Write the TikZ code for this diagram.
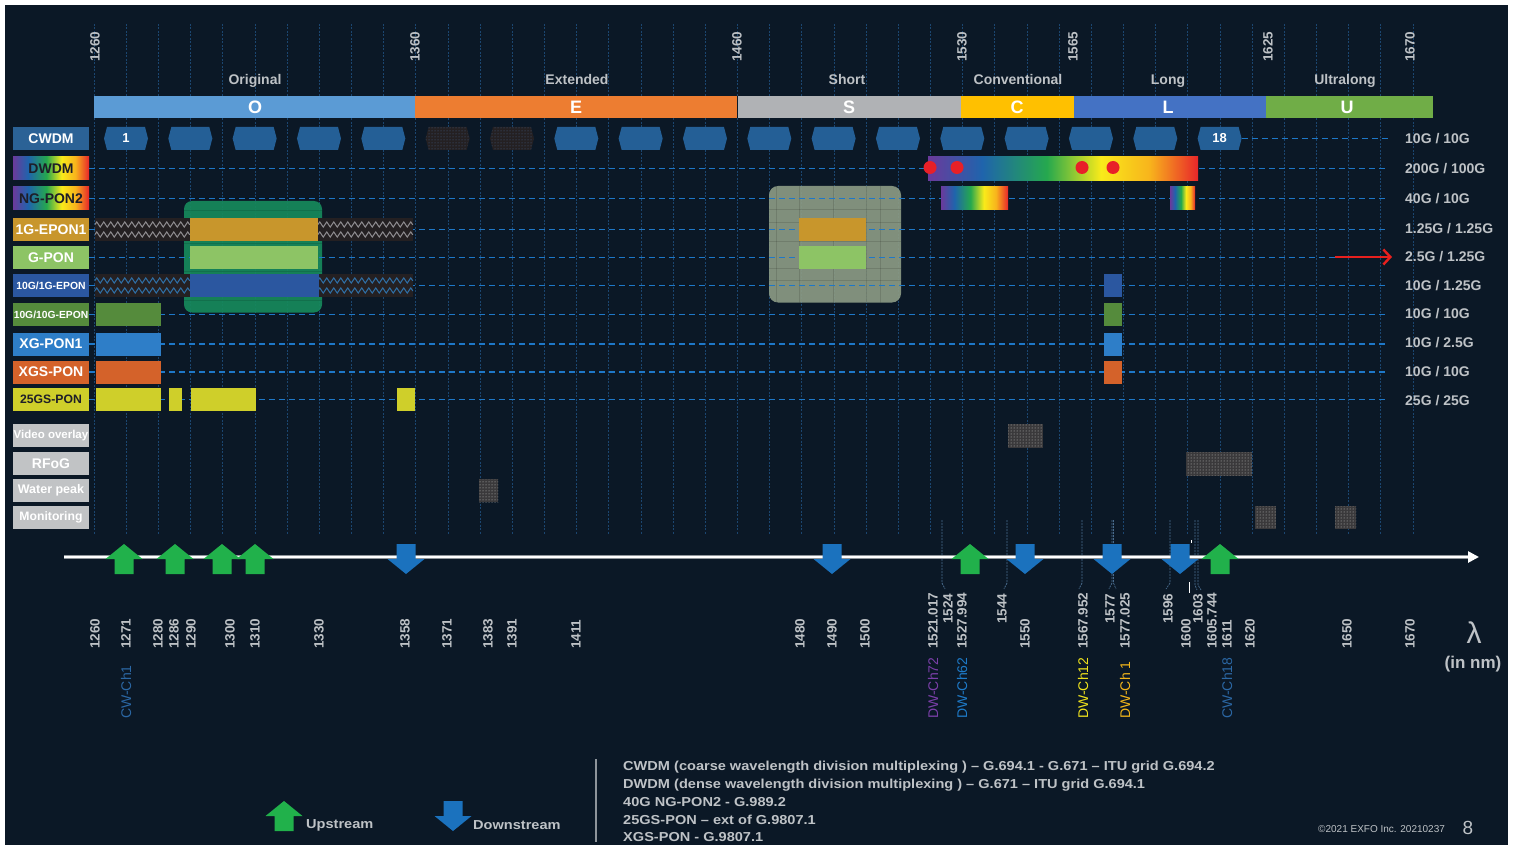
\documentclass[tikz,border=0pt]{standalone}
\usepackage{fontspec}
\setmainfont{Liberation Sans}
\usetikzlibrary{patterns,decorations.pathmorphing,arrows.meta}

\definecolor{pagebg}{HTML}{0B1826}
\definecolor{gridblue}{HTML}{1B4670}
\definecolor{rowdash}{HTML}{1E78C8}
\definecolor{txtgray}{HTML}{BEC2C6}
\definecolor{bandO}{HTML}{5B9BD5}
\definecolor{bandE}{HTML}{ED7D31}
\definecolor{bandS}{HTML}{B0B2B5}
\definecolor{bandC}{HTML}{FFC000}
\definecolor{bandL}{HTML}{4472C4}
\definecolor{bandU}{HTML}{70AD47}
\definecolor{cwdmlbl}{HTML}{2B6296}
\definecolor{cwdmhex}{HTML}{245F96}
\definecolor{epongold}{HTML}{C8962C}
\definecolor{gpongreen}{HTML}{8DC465}
\definecolor{tenone}{HTML}{2B57A0}
\definecolor{tenten}{HTML}{558B3C}
\definecolor{xgpon}{HTML}{2E7EC8}
\definecolor{xgspon}{HTML}{D4622A}
\definecolor{twentyfive}{HTML}{CFCF2A}
\definecolor{svcgray}{HTML}{C1C3C5}
\definecolor{labdark}{HTML}{1E1E28}
\definecolor{upgreen}{HTML}{21B14B}
\definecolor{downblue}{HTML}{1B72BE}
\definecolor{coexgreen}{HTML}{16895C}
\definecolor{sboxgray}{HTML}{8A9A84}
\definecolor{rbpurple}{HTML}{6B3A9C}
\definecolor{rbblue}{HTML}{1F64AC}
\definecolor{rbgreen}{HTML}{25A84E}
\definecolor{rbyellow}{HTML}{F9EA1A}
\definecolor{rborange}{HTML}{F8B41C}
\definecolor{rbred}{HTML}{E8262A}
\definecolor{dotred}{HTML}{E82028}
\definecolor{hatchdark}{HTML}{242022}
\definecolor{zzgray}{HTML}{8C8A8E}
\definecolor{zzblue}{HTML}{2F6EA4}
\definecolor{texgray}{HTML}{3A393B}
\definecolor{texdots}{HTML}{C8C8C8}
\definecolor{darkdots}{HTML}{46638A}
\definecolor{chpurple}{HTML}{7B3FA9}
\definecolor{chblue}{HTML}{1E7AC8}
\definecolor{chyellow}{HTML}{EFE21C}
\definecolor{chorange}{HTML}{F2B51A}
\definecolor{cwchblue}{HTML}{2B67A4}
\definecolor{arrowred}{HTML}{E8201E}
\definecolor{sepgray}{HTML}{8E949A}

\pgfdeclarehorizontalshading{rainbow}{100bp}{color(0bp)=(rbpurple); color(25bp)=(rbpurple); color(35bp)=(rbblue); color(47bp)=(rbgreen); color(57bp)=(rbyellow); color(66bp)=(rborange); color(75bp)=(rbred); color(100bp)=(rbred)}

\tikzset{
  gridline/.style={gridblue, line width=0.7pt, dash pattern=on 2pt off 1.5pt},
  leaderline/.style={gridblue!80!white, line width=0.7pt, dash pattern=on 2pt off 1pt},
  rowline/.style={rowdash, line width=1.6pt, dash pattern=on 6pt off 4pt},
  rowlabel/.style={minimum width=76pt, minimum height=23pt, inner sep=0pt, text=white, font=\bfseries\fontsize{14}{14}\selectfont},
  ratelabel/.style={anchor=west, inner sep=0pt, text=txtgray, font=\bfseries\fontsize{14}{14}\selectfont},
  ticklabel/.style={rotate=90, anchor=west, inner sep=0pt, text=txtgray, font=\bfseries\fontsize{13.5}{13.5}\selectfont},
  chanlabel/.style={rotate=90, anchor=west, inner sep=0pt, font=\fontsize{14}{14}\selectfont},
  bandname/.style={anchor=base, inner sep=0pt, text=txtgray, font=\bfseries\fontsize{14}{14}\selectfont},
  bandletter/.style={text=white, font=\bfseries\fontsize{18}{18}\selectfont},
  legendtext/.style={anchor=west, inner sep=0pt, text=txtgray, xscale=1.12, font=\bfseries\fontsize{13}{13}\selectfont},
  hexnum/.style={minimum width=44pt, minimum height=23pt, inner sep=0pt, text=white, font=\bfseries\fontsize{13}{13}\selectfont},
  zigline/.style={line width=1pt, decorate, decoration={zigzag, segment length=7pt, amplitude=2.6pt}},
  texbox/.style={fill=texgray, postaction={pattern=dots, pattern color=texdots}},
  faint/.style={black, opacity=0.12, line width=0.8pt},
  cwhex/.pic={\path[pic actions] (-22,0) -- (-19,-11.5) -- (19,-11.5) -- (22,0) -- (19,11.5) -- (-19,11.5) -- cycle;},
  uparrow/.pic={\fill[upgreen] (-18.5,15) -- (0,0) -- (18.5,15) -- (9.5,15) -- (9.5,30) -- (-9.5,30) -- (-9.5,15) -- cycle;},
  downarrow/.pic={\fill[downblue] (-9.5,0) -- (9.5,0) -- (9.5,15) -- (18.5,15) -- (0,30) -- (-18.5,15) -- (-9.5,15) -- cycle;},
}

\begin{document}
\begin{tikzpicture}[x=1pt,y=-1pt]
% page and backdrop
\fill[white] (0,0) rectangle (1516,845);
\useasboundingbox (0,0) rectangle (1516,845);
\fill[pagebg] (5,5) rectangle (1508,845);

% 10 nm grid
\foreach \k in {0,...,41}
  \draw[gridline] ({94+\k*32.17},24) -- ({94+\k*32.17},535);

% band names and band bar
\node[bandname] (nO) at (255,85) {Original};
\node[bandname] (nE) at (577,85) {Extended};
\node[bandname] (nS) at (847,85) {Short};
\node[bandname] (nC) at (1018,85) {Conventional};
\node[bandname] (nL) at (1168,85) {Long};
\node[bandname] (nU) at (1345,85) {Ultralong};
\fill[bandO] (94,96) rectangle (415,118.5);
\fill[bandE] (415,96) rectangle (737,118.5);
\fill[bandS] (737,96) rectangle (961,118.5);
\fill[bandC] (961,96) rectangle (1074,118.5);
\fill[bandL] (1074,96) rectangle (1266,118.5);
\fill[bandU] (1266,96) rectangle (1433,118.5);
\draw[pagebg, line width=0.6pt] (737,96) -- (737,118.5);
\node[bandletter] (bO) at (255,107.5) {O};
\node[bandletter] (bE) at (576,107.5) {E};
\node[bandletter] (bS) at (849,107.5) {S};
\node[bandletter] (bC) at (1017,107.5) {C};
\node[bandletter] (bL) at (1168,107.5) {L};
\node[bandletter] (bU) at (1347,107.5) {U};

% band edge wavelengths
\foreach \x/\t in {95/1260,415/1360,737/1460,962/1530,1073/1565,1268/1625,1410/1670}
  \node[ticklabel] at (\x,62) {\t};

% coexistence zones
\fill[coexgreen, opacity=0.92, rounded corners=8pt] (184,201) rectangle (322,312.5);
\begin{scope}
  \clip[rounded corners=8pt] (184,201) rectangle (322,312.5);
  \foreach \yy in {210,243,271,300} \draw[faint] (184,\yy) -- (322,\yy);
\end{scope}
\fill[sboxgray, opacity=0.92, rounded corners=9pt] (769,186) rectangle (901,302.5);
\begin{scope}
  \clip[rounded corners=9pt] (769,186) rectangle (901,302.5);
  \foreach \yy in {209,222,241,268,280} \draw[faint] (769,\yy) -- (901,\yy);
  \foreach \xx in {776,799,833,866,880} \draw[faint] (\xx,186) -- (\xx,302.5);
\end{scope}

% row labels (left) and rates (right)
\node[rowlabel, fill=cwdmlbl] (lCWDM) at (51,138.5) {CWDM};
\node[rowlabel, shade, shading=rainbow, text=labdark] (lDWDM) at (51,168.5) {DWDM};
\node[rowlabel, shade, shading=rainbow, text=labdark] (lNG) at (51,198.5) {NG-PON2};
\node[rowlabel, fill=epongold] (lEPON) at (51,229.5) {1G-EPON1};
\node[rowlabel, fill=gpongreen] (lGPON) at (51,257.5) {G-PON};
\node[rowlabel, fill=tenone, font=\bfseries\fontsize{10.4}{10.4}\selectfont] (lTenOne) at (51,285.5) {10G/1G-EPON};
\node[rowlabel, fill=tenten, font=\bfseries\fontsize{10.3}{10.3}\selectfont] (lTenTen) at (51,314.5) {10G/10G-EPON};
\node[rowlabel, fill=xgpon] (lXG) at (51,344) {XG-PON1};
\node[rowlabel, fill=xgspon] (lXGS) at (51,372) {XGS-PON};
\node[rowlabel, fill=twentyfive, text=labdark, font=\bfseries\fontsize{12.2}{12.2}\selectfont] (lTwentyFive) at (51,399.5) {25GS-PON};
\node[rowlabel, fill=svcgray, font=\bfseries\fontsize{11.5}{11.5}\selectfont] (lVideo) at (51,435.5) {Video overlay};
\node[rowlabel, fill=svcgray] (lRFoG) at (51,463.5) {RFoG};
\node[rowlabel, fill=svcgray, font=\bfseries\fontsize{12.5}{12.5}\selectfont] (lWater) at (51,490.5) {Water peak};
\node[rowlabel, fill=svcgray, font=\bfseries\fontsize{12.2}{12.2}\selectfont] (lMon) at (51,517.5) {Monitoring};

\node[ratelabel] (rCWDM) at (1405,138.5) {10G / 10G};
\node[ratelabel] (rDWDM) at (1405,169) {200G / 100G};
\node[ratelabel] (rNG) at (1405,198.5) {40G / 10G};
\node[ratelabel] (rEPON) at (1405,228.5) {1.25G / 1.25G};
\node[ratelabel] (rGPON) at (1405,257) {2.5G / 1.25G};
\node[ratelabel] (rTenOne) at (1405,285.5) {10G / 1.25G};
\node[ratelabel] (rTenTen) at (1405,314) {10G / 10G};
\node[ratelabel] (rXG) at (1405,343) {10G / 2.5G};
\node[ratelabel] (rXGS) at (1405,372) {10G / 10G};
\node[ratelabel] (rTwentyFive) at (1405,400.5) {25G / 25G};

% dashed row leaders
\draw[rowline, shorten >=17pt] (lDWDM.east) -- (rDWDM.west |- lDWDM.east);
\draw[rowline, shorten >=17pt] (lNG.east) -- (rNG.west |- lNG.east);
\draw[rowline, shorten >=17pt] (lEPON.east) -- (rEPON.west |- lEPON.east);
\coordinate (gponArrowStart) at (1335,257);
\draw[rowline] (lGPON.east) -- (gponArrowStart |- lGPON.east);
\draw[rowline, shorten >=17pt] (lTenOne.east) -- (rTenOne.west |- lTenOne.east);
\draw[rowline, shorten >=17pt] (lTenTen.east) -- (rTenTen.west |- lTenTen.east);
\draw[rowline, shorten >=17pt] (lXG.east) -- (rXG.west |- lXG.east);
\draw[rowline, shorten >=17pt] (lXGS.east) -- (rXGS.west |- lXGS.east);
\draw[rowline, shorten >=17pt] (lTwentyFive.east) -- (rTwentyFive.west |- lTwentyFive.east);
\draw[arrowred, line width=2.4pt, shorten >=13pt, -{Straight Barb[length=7pt,width=15pt]}] (gponArrowStart) -- (rGPON.west);

% CWDM channel grid (20 nm)
\foreach \k in {0,1,2,3,4,7,8,9,10,11,12,13,14,15,16,17}
  \pic[fill=cwdmhex] at ({126+64.33*\k},138.5) {cwhex};
\foreach \k in {5,6} {
  \pic[fill=hatchdark] at ({126+64.33*\k},138.5) {cwhex};
  \pic[pattern=dots, pattern color=darkdots] at ({126+64.33*\k},138.5) {cwhex};
}
\node[hexnum] (cw1) at (126,138.5) {1};
\node[hexnum] (cw18) at (1219.6,138.5) {18};
\draw[rowline, shorten >=17pt] (cw18.east) -- (rCWDM.west);

% DWDM and NG-PON2 spectra
\shade[shading=rainbow] (928,156.5) rectangle (1198,180.5);
\foreach \dx in {930,957,1082,1113}
  \fill[dotred] (\dx,167.5) circle[radius=6.5pt];
\shade[shading=rainbow] (941,187) rectangle (1008,210);
\shade[shading=rainbow] (1170,187) rectangle (1195,210);

% EPON / GPON coexistence rows
\fill[hatchdark] (95,218) rectangle (190,241);
\fill[hatchdark] (318,218) rectangle (413,241);
\fill[hatchdark] (95,274) rectangle (190,297);
\fill[hatchdark] (318,274) rectangle (413,297);
\foreach \xa/\xb in {95/190,318/413} {
  \draw[zigline, zzgray] (\xa,224.5) -- (\xb,224.5);
  \draw[zigline, zzgray] (\xa,234.5) -- (\xb,234.5);
  \draw[zigline, zzblue] (\xa,280.5) -- (\xb,280.5);
  \draw[zigline, zzblue] (\xa,290.5) -- (\xb,290.5);
}
\fill[epongold] (190,218) rectangle (318,241);
\fill[gpongreen] (190,246) rectangle (318,269);
\fill[tenone] (190,274) rectangle (319,297);
\fill[epongold] (799,218) rectangle (866,241);
\fill[gpongreen] (799,246) rectangle (866,269);

% 10G PON rows
\fill[tenten] (96,303) rectangle (161,326);
\fill[xgpon] (96,333) rectangle (161,355.5);
\fill[xgspon] (96,361) rectangle (161,383.5);
\fill[twentyfive] (96,388) rectangle (161,411);
\fill[twentyfive] (169,388) rectangle (182,411);
\fill[twentyfive] (191,388) rectangle (256,411);
\fill[twentyfive] (397,388) rectangle (415,411);
\fill[tenone] (1104,274) rectangle (1122,297);
\fill[tenten] (1104,303) rectangle (1122,326);
\fill[xgpon] (1104,333) rectangle (1122,355.5);
\fill[xgspon] (1104,361) rectangle (1122,383.5);

% service windows
\path[texbox] (1008,424) rectangle (1043,447.5);
\path[texbox] (1186,452) rectangle (1252,475.5);
\path[texbox] (479,479) rectangle (498,502);
\path[texbox] (1255,506) rectangle (1276,528.5);
\path[texbox] (1335,506) rectangle (1356,528.5);

% leaders from wavelength marks down to their labels
\draw[leaderline] (942,520) -- (942,583) -- (945,589);
\draw[leaderline] (1007,520) -- (1007,583) -- (1004,589);
\draw[leaderline] (1082,520) -- (1082,583) -- (1079,589);
\draw[leaderline] (1112,520) -- (1112,583) -- (1109,589);
\draw[leaderline] (1113.5,520) -- (1113.5,583) -- (1116,589);
\draw[leaderline] (1170,520) -- (1170,583) -- (1166,589);
\draw[leaderline] (1195,520) -- (1195,585) -- (1197,590);
\draw[leaderline] (1198,520) -- (1198,585) -- (1201,590);

% wavelength axis
\coordinate (axL) at (64,557);
\coordinate (axR) at (1479,557);
\draw[sepgray, line width=4pt] (axL) -- (1468,557);
\draw[white, line width=2.6pt, -{Triangle[length=11pt,width=11pt]}] (axL) -- (axR);
\draw[white, line width=1pt] (1189,582) -- (1189,593);
\draw[white, line width=1pt] (1191,540) -- (1191,543);

% upstream / downstream wavelengths
\foreach \ux in {124,175,222,255,970,1220}
  \pic at (\ux,544) {uparrow};
\foreach \dx in {406,832,1025,1112,1180}
  \pic at (\dx,544) {downarrow};

% wavelength values under the axis
\foreach \x/\t in {95/1260,126/1271,158/1280,174/1286,191/1290,230/1300,255/1310,319/1330,405/1358,447/1371,488/1383,512/1391,576/1411,800/1480,832/1490,865/1500,933/1521.017,962/1527.994,1025/1550,1083/1567.952,1125/1577.025,1186/1600,1212/1605.744,1227/1611,1250/1620,1347/1650,1410/1670}
  \node[ticklabel] at (\x,649) {\t};
\foreach \x/\t in {948/1524,1002/1544,1110/1577,1168/1596,1198/1603}
  \node[ticklabel] at (\x,624) {\t};

% channel names
\node[chanlabel, text=cwchblue] (chCW1) at (126,719) {CW-Ch1};
\node[chanlabel, text=chpurple] (chDW72) at (933,719) {DW-Ch72};
\node[chanlabel, text=chblue] (chDW62) at (962,719) {DW-Ch62};
\node[chanlabel, text=chyellow] (chDW12) at (1083,719) {DW-Ch12};
\node[chanlabel, text=chorange] (chDW1) at (1125,719) {DW-Ch 1};
\node[chanlabel, text=cwchblue] (chCW18) at (1227,719) {CW-Ch18};

% unit
\node[text=txtgray, font=\fontsize{30}{30}\selectfont] (lambda) at (1474,633) {λ};
\node[text=txtgray, font=\bfseries\fontsize{17}{17}\selectfont] (unit) at (1473,664) {(in nm)};

% legend
\pic at (284,801) {uparrow};
\node[legendtext] (legUp) at (306,825) {Upstream};
\pic at (453,801) {downarrow};
\node[legendtext] (legDown) at (473,825) {Downstream};
\coordinate (sepTop) at (596,759);
\coordinate (sepBot) at (596,842);
\draw[sepgray, line width=1.2pt] (sepTop) -- (sepBot);
\node[legendtext] (std1) at (623,767) {CWDM (coarse wavelength division multiplexing ) – G.694.1 - G.671 – ITU grid G.694.2};
\node[legendtext] (std2) at (623,785) {DWDM (dense wavelength division multiplexing ) – G.671 – ITU grid G.694.1};
\node[legendtext] (std3) at (623,802) {40G NG-PON2 - G.989.2};
\node[legendtext] (std4) at (623,820) {25GS-PON – ext of G.9807.1};
\node[legendtext] (std5) at (623,837) {XGS-PON - G.9807.1};

% footer
\node[anchor=west, inner sep=0pt, text=txtgray, font=\fontsize{10}{10}\selectfont] (copy) at (1318,829) {©2021 EXFO Inc. 20210237};
\node[text=txtgray, font=\fontsize{19}{19}\selectfont] (pageno) at (1468,828) {8};
\end{tikzpicture}
\end{document}
